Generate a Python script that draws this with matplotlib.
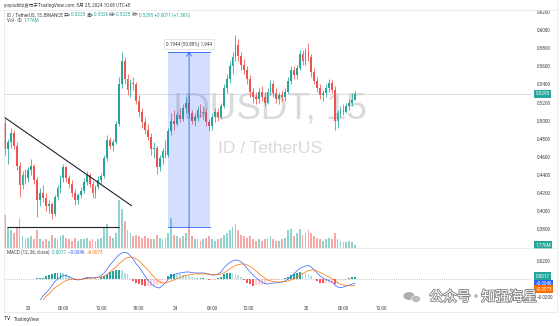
import matplotlib
matplotlib.use("Agg")
import matplotlib.pyplot as plt
import numpy as np
from matplotlib.patches import Rectangle, Ellipse
from matplotlib.lines import Line2D
import matplotlib.patheffects as pe

# ---------------- data ----------------
opens = [0.497, 0.468, 0.476, 0.486, 0.472, 0.450, 0.428, 0.440, 0.436, 0.445,
         0.450, 0.434, 0.412, 0.420, 0.414, 0.405, 0.408, 0.396, 0.415, 0.425,
         0.436, 0.448, 0.436, 0.430, 0.420, 0.412, 0.418, 0.422, 0.432, 0.440,
         0.430, 0.420, 0.426, 0.434, 0.438, 0.458, 0.478, 0.472, 0.476, 0.496,
         0.540, 0.566, 0.546, 0.534, 0.542, 0.540, 0.522, 0.510, 0.498, 0.490,
         0.482, 0.468, 0.470, 0.448, 0.458, 0.466, 0.462, 0.488, 0.500, 0.496,
         0.506, 0.502, 0.514, 0.520, 0.508, 0.500, 0.504, 0.512, 0.508, 0.510,
         0.498, 0.494, 0.504, 0.510, 0.504, 0.516, 0.536, 0.546, 0.560, 0.570,
         0.584, 0.572, 0.562, 0.556, 0.546, 0.532, 0.526, 0.524, 0.532, 0.526,
         0.520, 0.532, 0.540, 0.530, 0.524, 0.528, 0.526, 0.532, 0.544, 0.556,
         0.550, 0.558, 0.574, 0.566, 0.576, 0.570, 0.554, 0.544, 0.536, 0.528,
         0.530, 0.536, 0.542, 0.534, 0.500, 0.508, 0.512, 0.510, 0.516, 0.520,
         0.5225]
highs = [0.503, 0.480, 0.492, 0.490, 0.476, 0.454, 0.444, 0.446, 0.448, 0.457,
         0.452, 0.437, 0.425, 0.428, 0.420, 0.412, 0.410, 0.418, 0.428, 0.440,
         0.452, 0.450, 0.440, 0.434, 0.424, 0.420, 0.426, 0.436, 0.444, 0.442,
         0.433, 0.428, 0.438, 0.442, 0.462, 0.484, 0.482, 0.480, 0.500, 0.548,
         0.576, 0.570, 0.552, 0.546, 0.548, 0.543, 0.528, 0.514, 0.504, 0.496,
         0.486, 0.476, 0.472, 0.462, 0.470, 0.478, 0.492, 0.508, 0.512, 0.510,
         0.514, 0.518, 0.526, 0.528, 0.512, 0.508, 0.516, 0.518, 0.516, 0.514,
         0.502, 0.508, 0.514, 0.514, 0.520, 0.540, 0.552, 0.566, 0.576, 0.595,
         0.590, 0.576, 0.568, 0.560, 0.550, 0.536, 0.532, 0.536, 0.538, 0.532,
         0.536, 0.545, 0.544, 0.536, 0.532, 0.534, 0.536, 0.548, 0.560, 0.560,
         0.562, 0.578, 0.578, 0.580, 0.586, 0.574, 0.558, 0.548, 0.540, 0.534,
         0.540, 0.546, 0.545, 0.538, 0.512, 0.516, 0.518, 0.520, 0.524, 0.530,
         0.5326]
lows = [0.462, 0.452, 0.470, 0.468, 0.445, 0.415, 0.424, 0.430, 0.432, 0.440,
        0.430, 0.393, 0.405, 0.410, 0.400, 0.398, 0.391, 0.394, 0.412, 0.420,
        0.432, 0.432, 0.425, 0.415, 0.406, 0.408, 0.414, 0.420, 0.428, 0.426,
        0.414, 0.414, 0.424, 0.430, 0.436, 0.455, 0.468, 0.466, 0.474, 0.494,
        0.536, 0.540, 0.528, 0.526, 0.534, 0.518, 0.504, 0.492, 0.485, 0.478,
        0.462, 0.458, 0.441, 0.444, 0.452, 0.458, 0.460, 0.484, 0.490, 0.494,
        0.498, 0.500, 0.508, 0.504, 0.496, 0.494, 0.500, 0.504, 0.502, 0.494,
        0.488, 0.490, 0.498, 0.500, 0.502, 0.514, 0.530, 0.542, 0.552, 0.566,
        0.566, 0.556, 0.552, 0.540, 0.526, 0.520, 0.518, 0.520, 0.522, 0.516,
        0.518, 0.528, 0.526, 0.520, 0.518, 0.522, 0.522, 0.530, 0.540, 0.546,
        0.546, 0.556, 0.562, 0.562, 0.566, 0.548, 0.540, 0.532, 0.524, 0.522,
        0.526, 0.532, 0.530, 0.489, 0.492, 0.504, 0.506, 0.508, 0.512, 0.516,
        0.5225]
closes = [0.468, 0.476, 0.486, 0.472, 0.450, 0.428, 0.440, 0.436, 0.445, 0.450,
          0.434, 0.412, 0.420, 0.414, 0.405, 0.408, 0.396, 0.415, 0.425, 0.436,
          0.448, 0.436, 0.430, 0.420, 0.412, 0.418, 0.422, 0.432, 0.440, 0.430,
          0.420, 0.426, 0.434, 0.438, 0.458, 0.478, 0.472, 0.476, 0.496, 0.540,
          0.566, 0.546, 0.534, 0.542, 0.540, 0.522, 0.510, 0.498, 0.490, 0.482,
          0.468, 0.470, 0.448, 0.458, 0.466, 0.462, 0.488, 0.500, 0.496, 0.506,
          0.502, 0.514, 0.520, 0.508, 0.500, 0.504, 0.512, 0.508, 0.510, 0.498,
          0.494, 0.504, 0.510, 0.504, 0.516, 0.536, 0.546, 0.560, 0.570, 0.584,
          0.572, 0.562, 0.556, 0.546, 0.532, 0.526, 0.524, 0.532, 0.526, 0.520,
          0.532, 0.540, 0.530, 0.524, 0.528, 0.526, 0.532, 0.544, 0.556, 0.550,
          0.558, 0.574, 0.566, 0.576, 0.570, 0.554, 0.544, 0.536, 0.528, 0.530,
          0.536, 0.542, 0.534, 0.500, 0.508, 0.512, 0.510, 0.516, 0.520, 0.5224,
          0.5295]
volumes_m = [22, 14, 12, 10, 14, 20, 8, 6, 7, 8,
             6, 12, 6, 5, 6, 5, 9, 7, 6, 8,
             9, 7, 6, 5, 7, 5, 6, 6, 7, 5,
             6, 5, 6, 7, 14, 16, 8, 7, 10, 32,
             26, 18, 12, 10, 8, 9, 8, 7, 8, 7,
             6, 6, 9, 7, 6, 7, 10, 20, 9, 8,
             7, 8, 10, 14, 8, 6, 6, 5, 6, 7,
             8, 6, 5, 6, 7, 9, 10, 12, 14, 16,
             12, 9, 8, 7, 8, 6, 5, 6, 5, 6,
             7, 8, 6, 5, 5, 6, 7, 12, 13, 8,
             10, 13, 9, 10, 12, 10, 8, 7, 6, 5,
             6, 7, 6, 10, 6, 5, 4, 4, 5, 4,
             1.776]
macd_line = [-0.046, -0.047, -0.048, -0.048, -0.048, -0.048, -0.047, -0.046, -0.044, -0.041,
             -0.037, -0.030, -0.024, -0.0189, -0.0156, -0.0122, -0.0078, -0.0033, 0.0, 0.0022,
             0.0039, 0.0039, 0.0022, 0.0006, -0.0006, -0.0011, -0.0006, 0.0006, 0.0017, 0.0017,
             0.0011, 0.0017, 0.0022, 0.0039, 0.0067, 0.0111, 0.0156, 0.0194, 0.0233, 0.0267,
             0.0289, 0.0294, 0.0289, 0.0256, 0.0217, 0.0167, 0.0133, 0.0083, 0.0033, -0.0011,
             -0.0050, -0.0078, -0.0094, -0.0100, -0.0072, -0.0044, 0.0, 0.0033, 0.0050, 0.0061,
             0.0067, 0.0072, 0.0078, 0.0078, 0.0072, 0.0067, 0.0067, 0.0067, 0.0067, 0.0061,
             0.0050, 0.0044, 0.0044, 0.0056, 0.0078, 0.0122, 0.0156, 0.0183, 0.0200, 0.0211,
             0.0206, 0.0189, 0.0156, 0.0117, 0.0078, 0.0044, 0.0017, -0.0011, -0.0033, -0.0050,
             -0.0056, -0.0050, -0.0044, -0.0044, -0.0039, -0.0033, -0.0022, 0.0, 0.0028, 0.0056,
             0.0089, 0.0117, 0.0133, 0.0144, 0.0150, 0.0133, 0.0100, 0.0067, 0.0033, 0.0011,
             -0.0006, -0.0017, -0.0033, -0.0067, -0.0089, -0.0094, -0.0089, -0.0078, -0.0067, -0.0056,
             -0.0046]
signal_line = [-0.045, -0.046, -0.047, -0.048, -0.048, -0.048, -0.048, -0.047, -0.045, -0.043,
               -0.039, -0.034, -0.029, -0.024, -0.0194, -0.0167, -0.0133, -0.0100, -0.0078, -0.0056,
               -0.0033, -0.0017, -0.0006, 0.0, 0.0, -0.0003, -0.0003, 0.0, 0.0006, 0.0011,
               0.0011, 0.0011, 0.0017, 0.0022, 0.0033, 0.0050, 0.0078, 0.0106, 0.0133, 0.0167,
               0.0194, 0.0222, 0.0239, 0.0244, 0.0239, 0.0222, 0.0200, 0.0167, 0.0133, 0.0100,
               0.0061, 0.0028, -0.0006, -0.0033, -0.0044, -0.0044, -0.0033, -0.0022, -0.0011, 0.0006,
               0.0017, 0.0028, 0.0039, 0.0044, 0.0050, 0.0056, 0.0056, 0.0056, 0.0056, 0.0056,
               0.0056, 0.0050, 0.0050, 0.0050, 0.0056, 0.0067, 0.0089, 0.0111, 0.0133, 0.0150,
               0.0161, 0.0167, 0.0167, 0.0156, 0.0139, 0.0117, 0.0089, 0.0061, 0.0033, 0.0011,
               -0.0011, -0.0022, -0.0028, -0.0033, -0.0033, -0.0033, -0.0028, -0.0022, -0.0011, 0.0,
               0.0017, 0.0039, 0.0061, 0.0078, 0.0094, 0.0100, 0.0100, 0.0089, 0.0072, 0.0056,
               0.0039, 0.0022, 0.0006, -0.0017, -0.0039, -0.0056, -0.0067, -0.0072, -0.0076, -0.0076,
               -0.0073]
macd_hist = [0.0002, -0.0002, 0.0, 0.0, 0.0, 0.0, 0.0002, 0.0002, 0.0002, 0.0003,
             0.0004, 0.0006, 0.0008, 0.0010, 0.0030, 0.0045, 0.0055, 0.0065, 0.0072, 0.0072,
             0.0068, 0.0056, 0.0030, 0.0006, -0.0006, -0.0008, -0.0003, 0.0006, 0.0011, 0.0006,
             0.0, 0.0006, 0.0005, 0.0017, 0.0034, 0.0061, 0.0078, 0.0088, 0.0100, 0.0100,
             0.0095, 0.0072, 0.0050, 0.0012, -0.0022, -0.0040, -0.0060, -0.0070, -0.0080, -0.0080,
             -0.0080, -0.0075, -0.0065, -0.0050, -0.0028, 0.0, 0.0033, 0.0055, 0.0061, 0.0055,
             0.0050, 0.0044, 0.0039, 0.0034, 0.0022, 0.0011, 0.0011, 0.0011, 0.0011, 0.0005,
             -0.0006, -0.0006, -0.0006, 0.0006, 0.0022, 0.0055, 0.0067, 0.0072, 0.0067, 0.0061,
             0.0045, 0.0022, -0.0011, -0.0039, -0.0061, -0.0073, -0.0072, -0.0072, -0.0066, -0.0061,
             -0.0045, -0.0028, -0.0016, -0.0011, -0.0006, 0.0, 0.0006, 0.0022, 0.0039, 0.0056,
             0.0072, 0.0078, 0.0072, 0.0066, 0.0056, 0.0033, 0.0, -0.0022, -0.0039, -0.0045,
             -0.0045, -0.0039, -0.0039, -0.0050, -0.0050, -0.0038, -0.0022, -0.0006, 0.0009, 0.0017,
             0.0017]

price_ticks = [0.38, 0.40, 0.42, 0.44, 0.46, 0.48, 0.50, 0.52, 0.54, 0.56, 0.58, 0.60, 0.62]
macd_ticks = [0.02, -0.02]
time_tick_pos = [7.9, 19.9, 32.9, 45.6, 58.3, 71.0, 83.3, 103.2, 115.9, 128.9]
time_tick_labels = ["23", "06:00", "12:00", "18:00", "24", "06:00", "12:00", "25", "06:00", "12:00"]

# drawings: falling trendline, support line, price-range measure
trend_x = [-0.34, 43.5]
trend_y = [0.5039, 0.4053]
support_x = [0.69, 39.1]
support_y = [0.3825, 0.3825]
measure_x = [55.9, 70.3]
measure_low, measure_high = 0.3821, 0.5765

symbol = "IDUSDT"
interval = "15"
publisher_line = "yoyoubitz发布于TradingView.com, 8月 25, 2024 10:08 UTC+8"
wm_text = "公众号 · 知强海星"

# ---------------- style ----------------
W, H = 560, 326
UP, DOWN = "#26a69a", "#ef5350"
BLUE, ORANGE = "#2962ff", "#ff6d00"
TXT = "#3b3e47"
FS = 3.3
plt.rcParams["font.family"] = ["Roboto", "Noto Sans CJK SC", "DejaVu Sans"]

fig = plt.figure(figsize=(W / 100, H / 100), dpi=100)
fig.patch.set_facecolor("white")


def box(x0, y0, x1, y1):
    return [x0 / W, 1 - y1 / H, (x1 - x0) / W, (y1 - y0) / H]


idx = np.arange(len(closes))
o, h, l, c = map(np.array, (opens, highs, lows, closes))
up = c >= o
cols = np.where(up, UP, DOWN)
XLIM = (-0.343, 180.3)

ax_vol = fig.add_axes(box(4, 10, 531, 248))
ax = fig.add_axes(box(4, 10, 531, 248))
ax_macd = fig.add_axes(box(4, 248, 531, 300))
ax_vol.set_zorder(0)
ax.set_zorder(1)
ax.patch.set_alpha(0)
for a in (ax_vol, ax, ax_macd):
    a.set_xlim(*XLIM)
    for s in a.spines.values():
        s.set_visible(False)
    a.set_xticks([])

ax.set_ylim(0.3587, 0.62255)
ax_vol.set_ylim(0, 160)
ax_vol.set_yticks([])
ax_macd.set_ylim(-0.02333, 0.03444)

# watermark
ax.text(0.505, 0.585, f"{symbol}, {interval}", transform=ax.transAxes, ha="center", va="center",
        fontsize=26.5, color="#dadada", family=["Liberation Sans"], zorder=0)
ax.text(0.505, 0.42, "ID / TetherUS", transform=ax.transAxes, ha="center", va="center",
        fontsize=12.5, color="#dadada", family=["Liberation Sans"], zorder=0)

# volume
vol_cols = [(0.149, 0.651, 0.604, 0.5) if u else (0.937, 0.325, 0.314, 0.5) for u in up]
ax_vol.bar(idx, volumes_m, width=0.62, color=vol_cols, linewidth=0)

# candles
ax.vlines(idx, l, h, colors=cols, linewidth=0.55, zorder=3)
body_h = np.maximum(np.abs(c - o), 0.0006)
ax.bar(idx, body_h, bottom=np.minimum(o, c), width=0.62, color=cols, linewidth=0, zorder=4)

# last price line
ax.axhline(closes[-1], color="#d6d6d6", linewidth=0.6, zorder=1)

# trendlines
ax.plot(trend_x, trend_y, color="#1e222d", linewidth=0.8, zorder=6, solid_capstyle="butt")
ax.plot(support_x, support_y, color="#1e222d", linewidth=0.8, zorder=6, solid_capstyle="butt")

# price-range measure
ax.add_patch(Rectangle((measure_x[0], measure_low), measure_x[1] - measure_x[0],
                       measure_high - measure_low, facecolor=BLUE, alpha=0.2,
                       edgecolor="none", zorder=5))
for yv in (measure_low, measure_high):
    ax.plot(measure_x, [yv, yv], color=BLUE, linewidth=0.6, zorder=6)
mid = (measure_x[0] + measure_x[1]) / 2
ax.annotate("", xy=(mid, measure_high), xytext=(mid, measure_low),
            arrowprops=dict(arrowstyle="->,head_length=0.4,head_width=0.25", color=BLUE,
                            linewidth=0.6, mutation_scale=7, shrinkA=0, shrinkB=0), zorder=6)
diff = measure_high - measure_low
ax.annotate(f"{diff:.4f} ({diff / measure_low * 100:.2f}%) {diff * 10000:,.0f}",
            xy=(mid, measure_high), xytext=(0, 5.5), textcoords="offset points",
            ha="center", va="center", fontsize=FS, color=TXT, zorder=7,
            bbox=dict(boxstyle="square,pad=0.5", fc="white", ec="#d0d0d0", lw=0.4))

# price scale
ax.yaxis.tick_right()
ax.set_yticks(price_ticks)
ax.set_yticklabels([f"{p:.4f}" for p in price_ticks])
ax.tick_params(axis="y", length=0, pad=4.0, labelsize=FS, labelcolor=TXT)


def tag(axis, yval, text, color, dy=0.0):
    axis.annotate(text, xy=(1, yval), xycoords=axis.get_yaxis_transform(),
                  xytext=(3.1, dy), textcoords="offset points", ha="left", va="center",
                  fontsize=FS, color="white", annotation_clip=False, zorder=20,
                  bbox=dict(boxstyle="square,pad=0.3", fc=color, ec="none"))


tag(ax, closes[-1], f"{closes[-1]:.4f}", UP)
tag(ax_vol, volumes_m[-1], f"{volumes_m[-1]:.3f}M", UP)

# MACD pane
hist = np.array(macd_hist)
prev = np.concatenate([[hist[0]], hist[:-1]])
hcols = np.where(hist >= 0, np.where(hist >= prev, "#26a69a", "#b2dfdb"),
                 np.where(hist < prev, "#ff5252", "#ffcdd2"))
ax_macd.bar(idx, hist, width=0.62, color=hcols, linewidth=0)
ax_macd.axhline(0, color="#9598a1", linewidth=0.5, linestyle=(0, (1, 2)))
ax_macd.plot(idx, macd_line, color=BLUE, linewidth=0.5)
ax_macd.plot(idx, signal_line, color=ORANGE, linewidth=0.5)
ax_macd.yaxis.tick_right()
ax_macd.set_yticks(macd_ticks)
ax_macd.set_yticklabels([f"{v:.4f}".replace("-", "\u2212") for v in macd_ticks])
ax_macd.tick_params(axis="y", length=0, pad=4.0, labelsize=FS, labelcolor=TXT)
ax_macd.set_xticks(time_tick_pos)
ax_macd.set_xticklabels(time_tick_labels)
ax_macd.tick_params(axis="x", length=0, pad=4.5, labelsize=FS, labelcolor=TXT)


def fmt(v):
    return f"{v:.4f}".replace("-", "\u2212")


tag(ax_macd, macd_hist[-1], fmt(macd_hist[-1]), "#26a69a", dy=1.0)
tag(ax_macd, macd_line[-1], fmt(macd_line[-1]), BLUE, dy=-0.6)
tag(ax_macd, signal_line[-1], fmt(signal_line[-1]), ORANGE, dy=-2.6)

# frame lines
for (x0, y0, x1, y1) in [(0, 9.5, 557, 9.5), (4, 248, 557, 248), (4, 9.5, 4, 312),
                         (557, 0, 557, 312), (4, 312, 557, 312)]:
    fig.add_artist(Line2D([x0 / W, x1 / W], [1 - y0 / H, 1 - y1 / H], color="#e3e5ea",
                          linewidth=0.5, transform=fig.transFigure))

# header texts
renderer = fig.canvas.get_renderer()


def rich(x_px, y_px, pieces, size=FS):
    x = x_px
    for s, col in pieces:
        t = fig.text(x / W, 1 - y_px / H, s, color=col, fontsize=size, ha="left", va="center")
        x = t.get_window_extent(renderer).x1


rich(4, 5, [(publisher_line, TXT)])
chg = closes[-1] - closes[-2]
rich(7, 15, [("ID / TetherUS, 15, BINANCE ", TXT),
             ("开=", TXT), (f"{opens[-1]:.4f} ", UP),
             ("高=", TXT), (f"{highs[-1]:.4f} ", UP),
             ("低=", TXT), (f"{lows[-1]:.4f} ", UP),
             ("收=", TXT), (f"{closes[-1]:.4f} +{chg:.4f} (+{chg / closes[-2] * 100:.2f}%)", UP)])
rich(7, 21, [("Vol · ID  ", TXT), (f"{volumes_m[-1]:.3f}M", UP)])
rich(7, 252.5, [("MACD (12, 26, close)  ", TXT), (fmt(macd_hist[-1]) + "  ", UP),
                (fmt(macd_line[-1]) + "  ", BLUE), (fmt(signal_line[-1]), ORANGE)])

# branding
rich(4, 319, [("TV ", "#131722")], size=3.6)
fig.text(14 / W, 1 - 319 / H, "TradingView", fontsize=FS, color=TXT, ha="left", va="center")

# overlay mark (bottom right)
fig.add_artist(Ellipse((409 / W, 1 - 296 / H), 11 / W, 8 / H, facecolor="#9a9a9a",
                       edgecolor="none", alpha=0.8, transform=fig.transFigure))
fig.add_artist(Ellipse((416 / W, 1 - 299 / H), 9 / W, 7 / H, facecolor="#b5b5b5",
                       edgecolor="white", linewidth=0.5, alpha=0.9, transform=fig.transFigure))
fig.text(483 / W, 1 - 297 / H, wm_text, fontsize=10, color="white", ha="center", va="center",
         path_effects=[pe.withStroke(linewidth=1.3, foreground="#858585")])

fig.savefig("out.png", dpi=100, facecolor="white")
